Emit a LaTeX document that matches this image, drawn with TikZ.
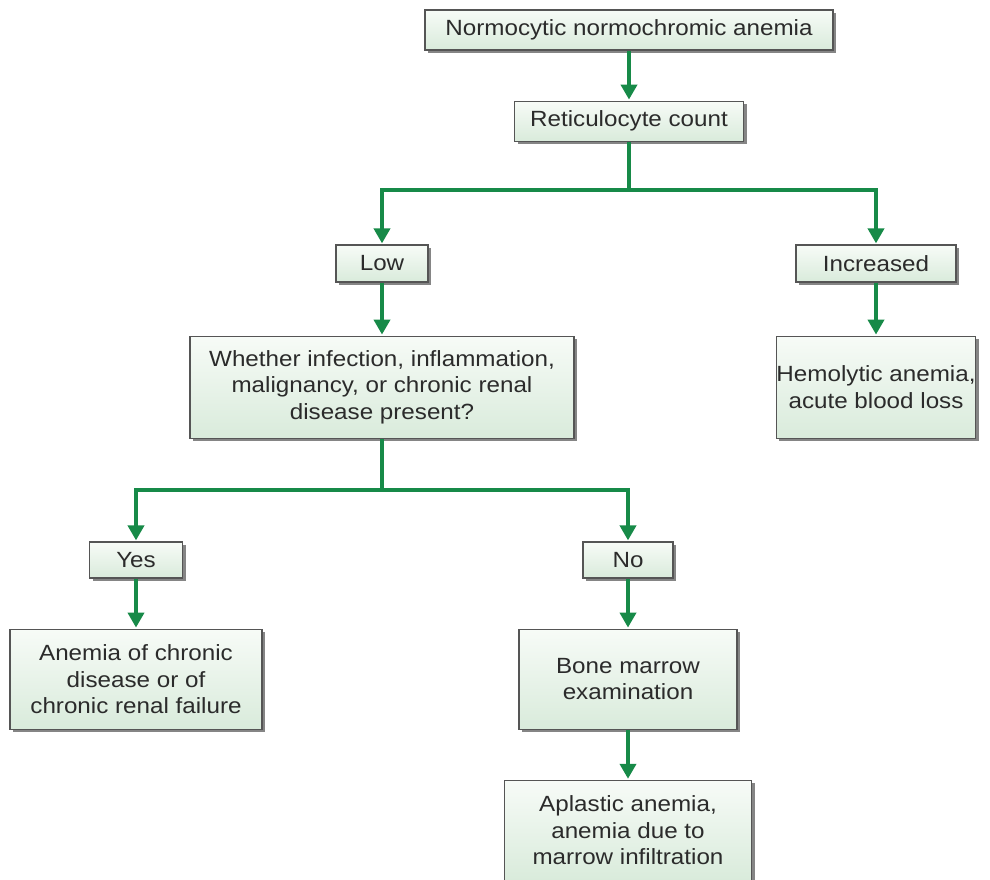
\documentclass[tikz,border=0pt]{standalone}
\usepackage{fontspec}
\setmainfont[FakeStretch=1.1]{Liberation Sans}
\usepackage{tikz}
\usetikzlibrary{arrows.meta,positioning,shadows}
\definecolor{flowgreen}{HTML}{178A48}
\definecolor{boxedge}{HTML}{555555}
\definecolor{boxtop}{HTML}{F7FBF7}
\definecolor{boxbottom}{HTML}{D9EBDB}
\definecolor{boxtext}{HTML}{2B2B2B}

\begin{document}
\begin{tikzpicture}[
x=1pt,y=-1pt,
box/.style={draw=boxedge,line width=1.2pt,top color=boxtop,bottom color=boxbottom,align=center,inner sep=0pt,
  text=boxtext,font=\fontsize{22}{26.5}\selectfont,
  drop shadow={shadow xshift=3pt,shadow yshift=-3pt,fill=black!60,opacity=.8}},
link/.style={line width=4pt,draw=flowgreen},
arr/.style={link,-{Triangle[width=16pt,length=15pt]},shorten >=1pt}
]
\useasboundingbox (0,0) rectangle (990,880);
% top chain
\node[box,minimum width=408pt,minimum height=40pt] (norm) at (629,30) {Normocytic normochromic anemia};
\node[box,minimum width=229pt,minimum height=40pt,below=50pt of norm] (retic) {Reticulocyte count};
\coordinate (split1) at (629,190);
% reticulocyte branches
\node[box,minimum width=92pt,minimum height=37pt] (low) at (382,263.5) {Low};
\node[box,minimum width=160pt,minimum height=37pt] (incr) at (876,263.5) {Increased};
\node[box,minimum width=384pt,minimum height=102pt,below=53pt of low] (query) {Whether infection, inflammation,\\malignancy, or chronic renal\\disease present?};
\node[box,minimum width=193pt,minimum height=102pt,below=53pt of incr] (hemo) {Hemolytic anemia,\\acute blood loss};
\coordinate (split2) at (382,490);
% yes / no
\node[box,minimum width=93pt,minimum height=36pt] (yes) at (136,560) {Yes};
\node[box,minimum width=90pt,minimum height=36pt] (no) at (628,560) {No};
\node[box,minimum width=252pt,minimum height=100pt,below=50pt of yes] (chronic) {Anemia of chronic\\disease or of\\chronic renal failure};
\node[box,minimum width=218pt,minimum height=100pt,below=50pt of no] (marrow) {Bone marrow\\examination};
\node[box,minimum width=247pt,minimum height=100pt,below=50pt of marrow] (aplastic) {Aplastic anemia,\\anemia due to\\marrow infiltration};

\draw[arr] (norm) -- (retic);
\draw[link] (retic) -- (split1);
\draw[arr] (split1) -| (low);
\draw[arr] (split1) -| (incr);
\draw[arr] (low) -- (query);
\draw[arr] (incr) -- (hemo);
\draw[link] (query) -- (split2);
\draw[arr] (split2) -| (yes);
\draw[arr] (split2) -| (no);
\draw[arr] (yes) -- (chronic);
\draw[arr] (no) -- (marrow);
\draw[arr] (marrow) -- (aplastic);
\end{tikzpicture}
\end{document}
